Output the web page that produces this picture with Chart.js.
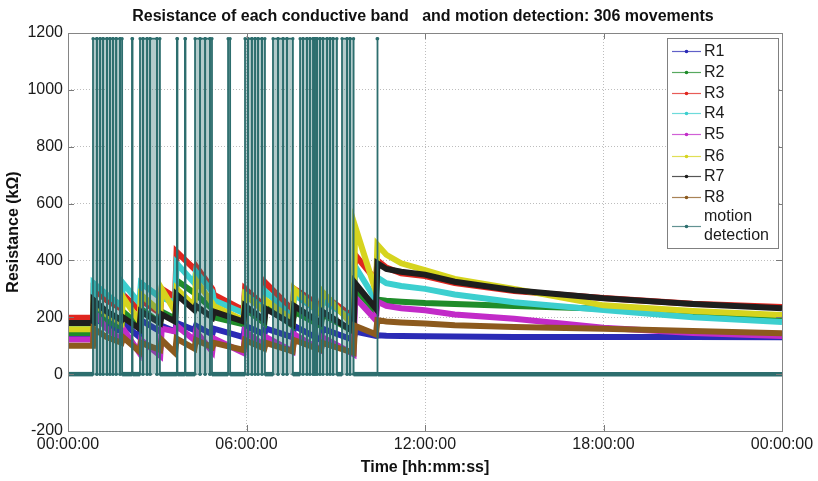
<!DOCTYPE html>
<html>
<head>
<meta charset="utf-8">
<script src="https://cdn.jsdelivr.net/npm/chart.js@4/dist/chart.umd.min.js"></script>
<style>
html,body{margin:0;padding:0;background:#fff;}
canvas{display:block;}
</style>
</head>
<body>
<canvas id="c" width="818" height="481"></canvas>
<script>
// ---------- DATA ----------
const chartTitle = 'Resistance of each conductive band   and motion detection: 306 movements';
const xAxisTitle = 'Time [hh:mm:ss]';
const yAxisTitle = 'Resistance (k\u03A9)';
const timeTickLabels = ['00:00:00', '06:00:00', '12:00:00', '18:00:00', '00:00:00'];
const seriesNames = ['R1', 'R2', 'R3', 'R4', 'R5', 'R6', 'R7', 'R8', 'motion detection'];

// time (hours) at which the band resistances were read
const rHours = [0, 0.84, 0.86, 1.3, 1.8, 1.85, 2.4, 2.45, 3.1, 3.15, 3.6, 3.65, 4.25, 4.3, 4.85, 4.9, 5.9, 5.95, 6.6, 6.65, 7.55, 7.6, 8.5, 8.55, 9.6, 9.65, 10.35, 10.4, 10.7, 11.2, 12, 13, 15, 18, 21, 24];
const R1 = [130,130, 200,170,150, 180,130, 190,150, 170,150, 180,155, 170,140, 160,130, 170,140, 160,130, 170,120, 160,120, 150,135, 137,135,134,133,132,131,131,131,130];
const R2 = [145,145, 230,190,165, 220,170, 230,180, 220,195, 330,285, 280,230, 200,175, 230,180, 240,170, 220,170, 210,150, 300,220, 262,258,255,250,247,240,230,214,202];
const R3 = [198,198, 300,260,230, 280,225, 260,215, 300,270, 430,370, 380,300, 280,225, 300,240, 320,225, 300,240, 280,200, 420,330, 400,375,355,345,320,292,268,248,236];
const R4 = [165,165, 320,280,240, 320,250, 320,270, 270,250, 390,320, 360,290, 260,215, 280,230, 290,200, 280,215, 260,190, 380,260, 340,320,310,300,280,253,226,200,183];
const R5 = [122,122, 220,160,120, 160,75, 120,65, 160,150, 170,120, 150,80, 125,75, 150,100, 130,80, 140,85, 130,70, 270,190, 255,240,232,225,210,195,163,145,134];
const R6 = [158,158, 250,210,180, 270,185, 280,220, 300,220, 300,240, 330,250, 240,190, 280,220, 260,190, 300,210, 290,170, 520,290, 455,420,390,366,335,300,242,222,208];
const R7 = [180,180, 260,220,190, 200,160, 220,180, 210,185, 280,225, 240,200, 220,185, 240,190, 230,175, 240,180, 220,150, 320,230, 390,370,360,350,325,295,267,247,232];
const R8 = [100,100, 160,130,110, 130,80, 110,85, 120,75, 125,90, 120,95, 110,85, 120,90, 110,80, 120,85, 110,75, 170,140, 190,185,182,178,172,166,160,152,144];

// motion detection: start / end time (hours) of each detected movement burst, and its level
const motionStart = [0.84,0.97,1.08,1.18,1.31,1.41,1.51,1.62,1.75, 2.15, 2.42,2.52,2.66,2.76,2.99, 3.66, 3.93, 4.27,4.44,4.61,4.77, 5.38, 5.95,6.05,6.18,6.29,6.39,6.52, 6.89,7.06,7.23,7.36, 7.80,7.90,8.03,8.13,8.24,8.30,8.37,8.47,8.57,8.71,8.81,8.91, 9.21,9.38,9.48, 10.39];
const motionEnd   = [0.97,1.08,1.18,1.31,1.41,1.51,1.62,1.75,1.82, 2.17, 2.52,2.66,2.76,2.99,3.09, 3.68, 3.95, 4.44,4.61,4.77,4.84, 5.45, 6.05,6.18,6.29,6.39,6.52,6.62, 7.06,7.23,7.36,7.56, 7.90,8.03,8.13,8.24,8.30,8.37,8.47,8.57,8.71,8.81,8.91,9.04, 9.38,9.48,9.60, 10.41];
const motionLevel = 1180;
const motionRest = 0;

// ---------- STYLE ----------
const colors = ['#2b2bb5', '#1f8c2a', '#e0261f', '#3ccfcf', '#c22bc8', '#d6d41e', '#1e1e1e', '#8c5a1e', '#2d6e6e'];
const FONT = '"Liberation Sans", Arial, sans-serif';

const rSeries = [R1, R2, R3, R4, R5, R6, R7, R8];
const datasets = rSeries.map((vals, k) => ({
  label: seriesNames[k],
  data: rHours.map((h, i) => ({x: h, y: vals[i]})),
  borderColor: colors[k],
  backgroundColor: colors[k],
  borderWidth: 6,
  pointRadius: 0,
  tension: 0,
  fill: false,
  order: 8 - k
}));

const motionPoints = [{x: 0, y: motionRest}];
motionStart.forEach((s, i) => {
  motionPoints.push({x: s, y: motionRest}, {x: s, y: motionLevel}, {x: motionEnd[i], y: motionLevel}, {x: motionEnd[i], y: motionRest});
});
motionPoints.push({x: 24, y: motionRest});

datasets.push({
  label: seriesNames[8],
  data: motionPoints,
  borderColor: colors[8],
  backgroundColor: 'rgba(45,110,110,0.36)',
  borderWidth: 1.5,
  pointRadius: 1.6,
  pointBackgroundColor: colors[8],
  pointBorderWidth: 0,
  tension: 0,
  fill: 'origin',
  order: 0,
  segment: {
    borderWidth: ctx => (ctx.p0.parsed.y === 0 && ctx.p1.parsed.y === 0) ? 4.5 : 1.8
  }
});

// ---------- PLUGINS ----------
const framePlugin = {
  id: 'frame',
  afterDraw(chart) {
    const {ctx, chartArea: a, scales} = chart;
    ctx.save();
    // inward tick marks
    ctx.strokeStyle = '#7a7a7a';
    ctx.lineWidth = 1;
    const tl = 6;
    scales.x.ticks.forEach(t => {
      const px = Math.round(scales.x.getPixelForValue(t.value)) + 0.5;
      ctx.beginPath();
      ctx.moveTo(px, a.bottom); ctx.lineTo(px, a.bottom - tl);
      ctx.moveTo(px, a.top); ctx.lineTo(px, a.top + tl);
      ctx.stroke();
    });
    scales.y.ticks.forEach(t => {
      const py = Math.round(scales.y.getPixelForValue(t.value)) + 0.5;
      ctx.beginPath();
      ctx.moveTo(a.left, py); ctx.lineTo(a.left + tl, py);
      ctx.moveTo(a.right, py); ctx.lineTo(a.right - tl, py);
      ctx.stroke();
    });
    // box
    ctx.strokeStyle = '#858585';
    ctx.strokeRect(Math.round(a.left) + 0.5, Math.round(a.top) + 0.5, Math.round(a.right - a.left), Math.round(a.bottom - a.top));

    // legend
    const lx = 667, ly = 38, lw = 111, lh = 210;
    ctx.fillStyle = '#ffffff';
    ctx.fillRect(lx, ly, lw, lh);
    ctx.strokeStyle = '#808080';
    ctx.strokeRect(lx + 0.5, ly + 0.5, lw, lh);
    const rows = [51, 72, 93, 113, 134, 156, 176, 197];
    ctx.font = '16px ' + FONT;
    ctx.textBaseline = 'middle';
    ctx.textAlign = 'left';
    chart.data.datasets.forEach((ds, k) => {
      const ly2 = k < 8 ? rows[k] : 226;
      ctx.strokeStyle = ds.borderColor;
      ctx.globalAlpha = 0.75;
      ctx.lineWidth = 1.2;
      ctx.beginPath(); ctx.moveTo(672, ly2 + 0.5); ctx.lineTo(701, ly2 + 0.5); ctx.stroke();
      ctx.globalAlpha = 1;
      ctx.fillStyle = ds.borderColor;
      ctx.beginPath(); ctx.arc(686.5, ly2 + 0.5, 1.8, 0, Math.PI * 2); ctx.fill();
      ctx.fillStyle = '#1a1a1a';
      if (k < 8) {
        ctx.fillText(ds.label, 704, ly2 + 1);
      } else {
        const parts = ds.label.split(' ');
        ctx.fillText(parts[0], 704, 217);
        ctx.fillText(parts[1], 704, 236);
      }
    });

    // main title
    ctx.font = 'bold 16px ' + FONT;
    ctx.textAlign = 'center';
    ctx.fillStyle = '#111';
    ctx.fillText(chartTitle, 423, 17);
    ctx.restore();
  }
};

// ---------- CHART ----------
new Chart(document.getElementById('c'), {
  type: 'line',
  data: {datasets},
  options: {
    responsive: false,
    animation: false,
    events: [],
    layout: {padding: {top: 33, right: 36, bottom: 0, left: 0}},
    plugins: {legend: {display: false}, tooltip: {enabled: false}, title: {display: false}},
    scales: {
      x: {
        type: 'linear', min: 0, max: 24,
        afterFit: s => { s.height = 50; },
        ticks: {
          stepSize: 6, autoSkip: false, maxRotation: 0, padding: 4,
          color: '#1a1a1a', font: {family: FONT, size: 16},
          callback: v => timeTickLabels[Math.round(v / 6)]
        },
        grid: {color: '#bdbdbd', lineWidth: 1, drawTicks: false},
        border: {display: false, dash: [1, 2]},
        title: {display: true, text: xAxisTitle, color: '#111', font: {family: FONT, size: 16, weight: 'bold'}, padding: {top: 0, bottom: 4}}
      },
      y: {
        type: 'linear', min: -200, max: 1200,
        afterFit: s => { s.width = 68; },
        ticks: {
          stepSize: 200, padding: 5,
          color: '#1a1a1a', font: {family: FONT, size: 16},
          callback: v => String(v)
        },
        grid: {color: '#bdbdbd', lineWidth: 1, drawTicks: false},
        border: {display: false, dash: [1, 2]},
        title: {display: true, text: yAxisTitle, color: '#111', font: {family: FONT, size: 16, weight: 'bold'}, padding: {top: 4, bottom: 0}}
      }
    }
  },
  plugins: [framePlugin]
});
</script>
</body>
</html>
